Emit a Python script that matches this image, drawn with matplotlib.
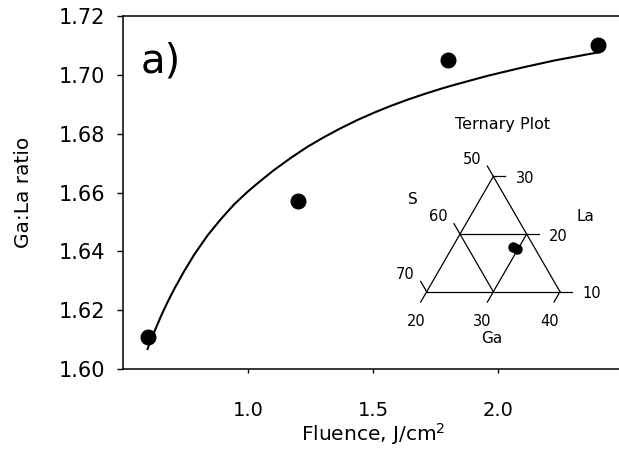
import numpy as np
import matplotlib
matplotlib.use("Agg")
from matplotlib import pyplot as plt

plt.rcParams['font.family'] = ['DejaVu Sans']

# measured points (fluence in J/cm2, Ga:La ratio)
fluence = [0.6, 1.2, 1.8, 2.4]
ratio = [1.611, 1.657, 1.705, 1.710]

# fitted curve
fit_x = [0.598, 0.625, 0.652, 0.678, 0.705, 0.745, 0.785, 0.839, 0.892,
         0.945, 0.999, 1.045, 1.105, 1.172, 1.239, 1.306, 1.372, 1.439,
         1.506, 1.573, 1.640, 1.706, 1.773, 1.826, 1.960, 2.093, 2.227,
         2.360, 2.400]
fit_y = [1.6068, 1.6126, 1.6180, 1.6227, 1.6272, 1.6333, 1.6389, 1.6455,
         1.6510, 1.6560, 1.6603, 1.6636, 1.6677, 1.6718, 1.6756, 1.6789,
         1.6819, 1.6847, 1.6872, 1.6895, 1.6916, 1.6935, 1.6953, 1.6966,
         1.6997, 1.7024, 1.7049, 1.7070, 1.7076]

x_ticks = [1.0, 1.5, 2.0]
y_ticks = [1.60, 1.62, 1.64, 1.66, 1.68, 1.70, 1.72]

# ternary inset: axis tick values (at %)
s_ticks = [50, 60, 70]
la_ticks = [10, 20, 30]
ga_ticks = [20, 30, 40]

# compositions of the film (S, La, Ga)
tern_s = [53.2, 52.8]
tern_la = [17.8, 17.4]
tern_ga = [29.0, 29.8]

S_MIN, LA_MIN, GA_MIN = 50, 10, 20
TICK_LEN = 1.8
LW = 0.9


def tern_xy(la, ga):
    ''' ternary composition -> cartesian, Ga along the bottom, La upwards '''
    la = np.asarray(la, dtype=float)
    ga = np.asarray(ga, dtype=float)
    return ga + la * 0.5, la * np.sqrt(3) / 2


def draw_ternary(ax):
    # lines of constant La (horizontal)
    for c in la_ticks:
        x, y = tern_xy([c, c], [GA_MIN, 100 - S_MIN - c])
        ax.plot(x, y, color='black', lw=LW)
    # lines of constant Ga
    for c in ga_ticks:
        x, y = tern_xy([LA_MIN, 100 - S_MIN - c], [c, c])
        ax.plot(x, y, color='black', lw=LW)
    # lines of constant S
    for c in s_ticks:
        x, y = tern_xy([LA_MIN, 100 - c - GA_MIN], [100 - c - LA_MIN, GA_MIN])
        ax.plot(x, y, color='black', lw=LW)

    # ticks + labels on each side
    d_s = np.array([-0.5, np.sqrt(3) / 2])
    d_la = np.array([1.0, 0.0])
    d_ga = np.array([-0.5, -np.sqrt(3) / 2])
    for c in s_ticks:
        x, y = tern_xy(100 - c - GA_MIN, GA_MIN)
        ax.plot([x, x + TICK_LEN * d_s[0]], [y, y + TICK_LEN * d_s[1]], color='black', lw=LW)
        ax.text(x - 3.25, y + 2.6, str(c), ha='center', va='center', fontsize=10.5)
    for c in la_ticks:
        x, y = tern_xy(c, 100 - S_MIN - c)
        ax.plot([x, x + TICK_LEN * d_la[0]], [y, y + TICK_LEN * d_la[1]], color='black', lw=LW)
        ax.text(x + 4.75, y - 0.3, str(c), ha='center', va='center', fontsize=10.5)
    for c in ga_ticks:
        x, y = tern_xy(LA_MIN, c)
        ax.plot([x, x + TICK_LEN * d_ga[0]], [y, y + TICK_LEN * d_ga[1]], color='black', lw=LW)
        ax.text(x - 1.6, y - 4.5, str(c), ha='center', va='center', fontsize=10.5)

    ax.text(22.95, 22.45, 'S', ha='center', va='center', fontsize=11)
    ax.text(48.75, 19.94, 'La', ha='center', va='center', fontsize=11)
    ax.text(34.75, 1.66, 'Ga', ha='center', va='center', fontsize=11)
    ax.text(36.45, 33.73, 'Ternary Plot', ha='center', va='center', fontsize=11.5)

    px, py = tern_xy(tern_la, tern_ga)
    ax.plot(px, py, 'o', color='black', ms=6.5, ls='none')

    ax.set_xlim(19.5, 52.5)
    ax.set_ylim(0.66, 35.96)
    ax.axis('off')


fig = plt.figure(figsize=(6.19, 4.5), dpi=100)
W, H = 619.0, 450.0
ax = fig.add_axes([123 / W, (H - 369) / H, 500 / W, 353 / H])

ax.plot(fit_x, fit_y, color='black', lw=1.5, zorder=2)
ax.plot(fluence, ratio, 'o', color='black', ms=10.5, zorder=3)

ax.set_xlim(0.5, 2.5)
ax.set_ylim(1.60, 1.72)
ax.set_xticks(x_ticks)
ax.set_xticklabels(['%.1f' % v for v in x_ticks])
ax.set_yticks(y_ticks)
ax.set_yticklabels(['%.2f' % v for v in y_ticks])
ax.tick_params(axis='y', direction='out', length=4, width=1, pad=9, labelsize=15)
ax.tick_params(axis='x', direction='out', length=3, width=1, pad=20, labelsize=14)
for side in ['left', 'top', 'bottom']:
    ax.spines[side].set_linewidth(1.1)
ax.spines['right'].set_visible(False)

ax.set_xlabel('Fluence, J/cm$^{2}$', fontsize=14.5, labelpad=1)
ax.set_ylabel('Ga:La ratio', fontsize=14.5, labelpad=18)

ax.text(0.036, 0.841, 'a)', transform=ax.transAxes, fontsize=29, va='baseline', ha='left')

inset = fig.add_axes([390 / W, (H - 345) / H, 220 / W, 235 / H])
draw_ternary(inset)

fig.savefig('out.png', dpi=100)
